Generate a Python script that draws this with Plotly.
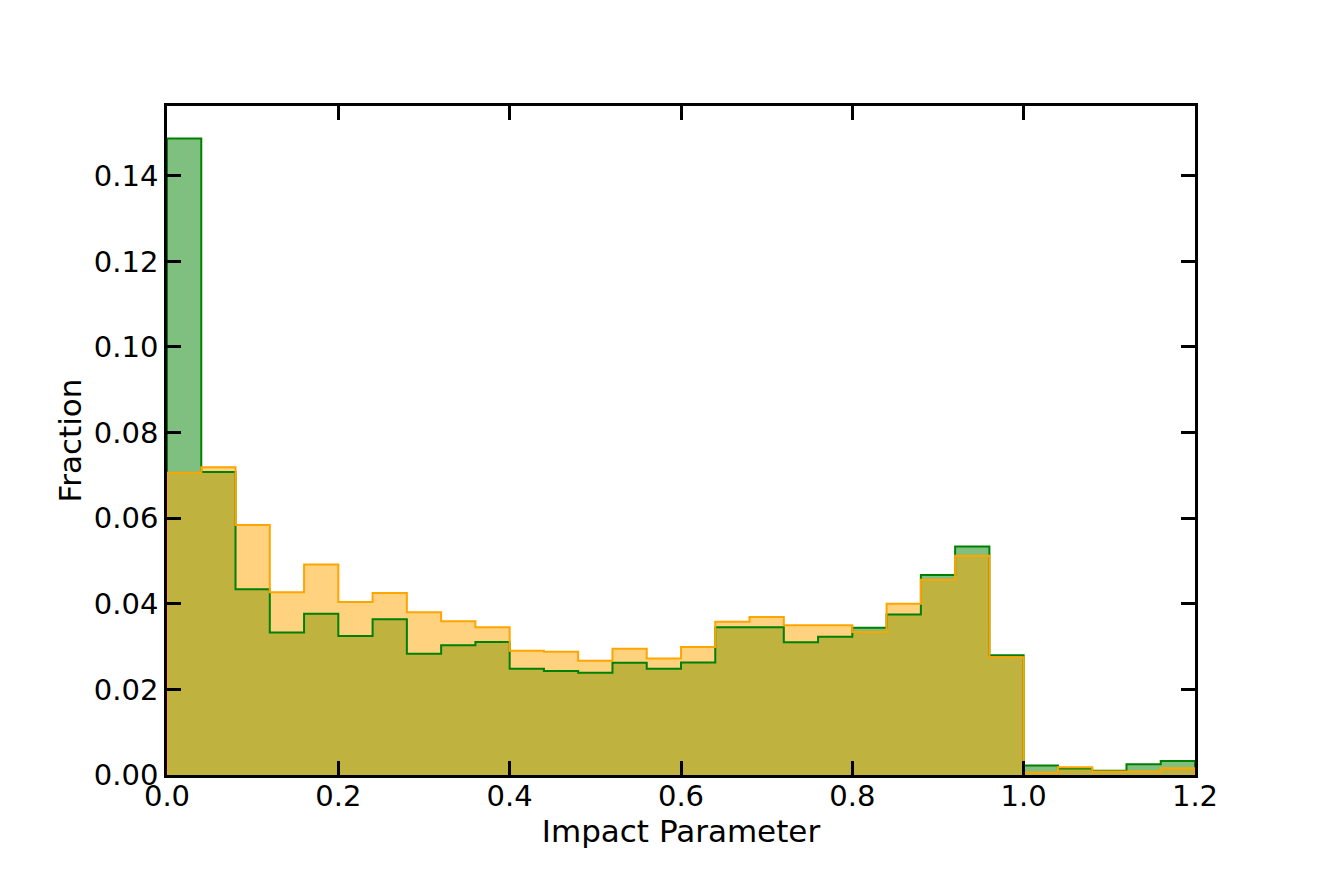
import numpy as np
import plotly.graph_objects as go

# 30 bins of width 0.04 over [0, 1.2]
BIN_EDGES = np.linspace(0.0, 1.2, 31)

GREEN_FRACTION = [
    0.1487, 0.0708, 0.0434, 0.0333, 0.0377, 0.0325, 0.0364, 0.0283, 0.0303, 0.0311,
    0.0248, 0.0243, 0.0239, 0.0262, 0.0248, 0.0263, 0.0345, 0.0345, 0.0310, 0.0323,
    0.0344, 0.0375, 0.0467, 0.0534, 0.0280, 0.0022, 0.0015, 0.0010, 0.0025, 0.0033,
]
ORANGE_FRACTION = [
    0.0706, 0.0719, 0.0584, 0.0427, 0.0492, 0.0404, 0.0425, 0.0380, 0.0359, 0.0345,
    0.0290, 0.0288, 0.0267, 0.0295, 0.0272, 0.0299, 0.0358, 0.0369, 0.0350, 0.0350,
    0.0334, 0.0400, 0.0456, 0.0512, 0.0275, 0.0006, 0.0018, 0.0008, 0.0008, 0.0016,
]

Y_TICKS = [0.00, 0.02, 0.04, 0.06, 0.08, 0.10, 0.12, 0.14]
X_TICKS = [0.0, 0.2, 0.4, 0.6, 0.8, 1.0, 1.2]

FONT = "DejaVu Sans"


def _step_y(values):
    # repeat last value so the hv step closes at the final bin edge
    return list(values) + [values[-1]]


def _fill_trace(values, fill_color):
    return go.Scatter(
        x=BIN_EDGES,
        y=_step_y(values),
        mode="lines",
        line={"shape": "hv", "width": 0},
        fill="tozeroy",
        fillcolor=fill_color,
        showlegend=False,
        hoverinfo="skip",
    )


def _edge_trace(values, line_color):
    # close the outline down to zero at both ends, like a stepfilled hist
    x = [BIN_EDGES[0]] + list(BIN_EDGES) + [BIN_EDGES[-1]]
    y = [0.0] + _step_y(values) + [0.0]
    return go.Scatter(
        x=x,
        y=y,
        mode="lines",
        line={"shape": "hv", "color": line_color, "width": 2},
        showlegend=False,
        hoverinfo="skip",
    )


fig = go.Figure()
fig.add_trace(_fill_trace(GREEN_FRACTION, "rgba(0,128,0,0.5)"))
fig.add_trace(_fill_trace(ORANGE_FRACTION, "rgba(255,165,0,0.5)"))
fig.add_trace(_edge_trace(GREEN_FRACTION, "rgb(0,128,0)"))
fig.add_trace(_edge_trace(ORANGE_FRACTION, "rgb(255,165,0)"))

axis_common = {
    "showline": True,
    "linecolor": "black",
    "linewidth": 2.5,
    "mirror": "ticks",
    "ticks": "inside",
    "ticklen": 14,
    "tickwidth": 2.5,
    "tickcolor": "black",
    "showgrid": False,
    "zeroline": False,
    "tickfont": {"family": FONT, "size": 29, "color": "black"},
}

# page body has an 8px margin, so the figure is shrunk to fit the window
fig.update_layout(
    width=1313,
    height=870,
    margin={"l": 159, "r": 126, "t": 98, "b": 103},
    paper_bgcolor="white",
    plot_bgcolor="white",
    font={"family": FONT, "color": "black"},
    xaxis={
        **axis_common,
        "range": [0.0, 1.2],
        "tickvals": X_TICKS,
        "tickformat": ".1f",
        "ticklabelstandoff": -7,
        "title": {"text": "Impact Parameter", "font": {"family": FONT, "size": 31}, "standoff": 5},
    },
    yaxis={
        **axis_common,
        "range": [0.0, 0.1563],
        "tickvals": Y_TICKS,
        "tickformat": ".2f",
        "title": {"text": "Fraction", "font": {"family": FONT, "size": 31}, "standoff": 4},
    },
)

fig.write_html("out.html")
